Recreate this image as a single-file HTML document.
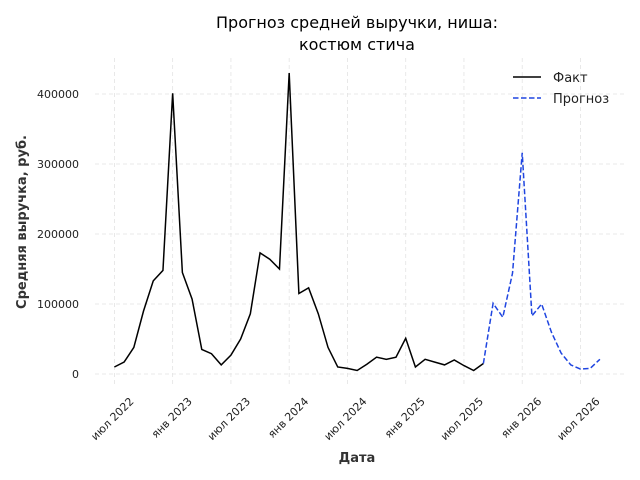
<!DOCTYPE html>
<html><head><meta charset="utf-8"><style>
body{margin:0;background:#fff;}
svg{display:block;font-family:"DejaVu Sans","Liberation Sans",sans-serif;}
</style></head><body>
<svg id="chart" width="640" height="480">
<text x="357" y="28" text-anchor="middle" font-size="16" fill="#000">Прогноз средней выручки, ниша:</text>
<text x="357" y="50" text-anchor="middle" font-size="16" fill="#000">костюм стича</text>
<text transform="translate(26,222) rotate(-90)" text-anchor="middle" font-size="13" font-weight="bold" fill="#333">Средняя выручка, руб.</text>
<text x="357" y="462" text-anchor="middle" font-size="13" font-weight="bold" fill="#333">Дата</text>
<g id="grid"></g>
<g id="ticks"></g>
<g id="series"></g>
<g>
<line x1="513" y1="77" x2="541" y2="77" stroke="#000" stroke-width="1.5"/>
<text x="553" y="82" font-size="13" fill="#222">Факт</text>
<line x1="513" y1="98" x2="541" y2="98" stroke="#1f45e0" stroke-width="1.5" stroke-dasharray="5.5,2.5"/>
<text x="553" y="103" font-size="13" fill="#222">Прогноз</text>
</g>
</svg>
<script>
const yTicks=[0,100000,200000,300000,400000];
const xTickLabels=["июл 2022","янв 2023","июл 2023","янв 2024","июл 2024","янв 2025","июл 2025","янв 2026","июл 2026"];
const xTickMonths=[0,6,12,18,24,30,36,42,48];
// months since Jul 2022
const factValues=[10000,17000,38000,90000,133000,148000,401000,145000,107000,35000,29000,13000,27000,50000,86000,173000,164000,150000,430000,115000,123000,86000,38000,10000,8000,5000,14000,24000,21000,24000,51000,10000,21000,17000,13000,20000,12000,5000,15000];
const forecastStart=38;
const forecastValues=[15000,101000,81000,144000,316000,83000,100000,60000,30000,13000,7000,8000,21000];
const NS="http://www.w3.org/2000/svg";
const X=m=>114.4+m*9.71;
const Y=v=>374-v*0.0007;
const grid=document.getElementById('grid'),ticks=document.getElementById('ticks'),series=document.getElementById('series');
function mk(t,a,p){const e=document.createElementNS(NS,t);for(const k in a)e.setAttribute(k,a[k]);p.appendChild(e);return e;}
yTicks.forEach(v=>{
 const l=mk('line',{x1:95,x2:625,y1:Y(v),y2:Y(v),stroke:'#e3e3e3','stroke-dasharray':'4,3','stroke-width':0.8},grid);
 
 
 const t=mk('text',{x:79,y:Y(v)+4,'text-anchor':'end','font-size':11,fill:'#222'},ticks);
 t.textContent=v;
 
 
});
xTickMonths.forEach((m,i)=>{
 const l=mk('line',{x1:X(m),x2:X(m),y1:58,y2:385,stroke:'#e3e3e3','stroke-dasharray':'4,3','stroke-width':0.8},grid);
 
 
 const ax=X(m)+20, ay=402;
 const t=mk('text',{x:ax,y:ay,'text-anchor':'end','font-size':11,fill:'#222',transform:`rotate(-45 ${ax} ${ay})`},ticks);
 t.textContent=xTickLabels[i];
 
 
});
const fp=mk('polyline',{points:factValues.map((v,i)=>X(i)+','+Y(v)).join(' '),fill:'none',stroke:'#000','stroke-width':1.5},series);


const pp=mk('polyline',{points:forecastValues.map((v,i)=>X(i+forecastStart)+','+Y(v)).join(' '),fill:'none',stroke:'#1f45e0','stroke-width':1.5,'stroke-dasharray':'5.5,2.5'},series);


</script>
</body></html>
